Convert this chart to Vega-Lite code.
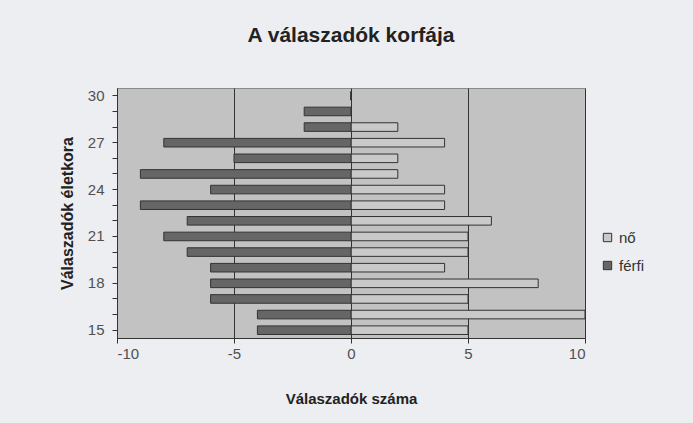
{
  "$schema": "https://vega.github.io/schema/vega-lite/v6.json",
  "width": 468,
  "height": 250,
  "autosize": {"type": "none"},
  "padding": {"left": 117, "top": 88, "right": 108, "bottom": 85},
  "background": "#eceef1",
  "title": {
    "text": "A válaszadók korfája",
    "anchor": "middle",
    "offset": 42,
    "fontSize": 21,
    "fontWeight": "bold",
    "font": "Liberation Sans",
    "color": "#222222"
  },
  "data": {
    "values": [
      {"age": 15, "sex": "nő", "value": 5},
      {"age": 15, "sex": "férfi", "value": -4},
      {"age": 16, "sex": "nő", "value": 10},
      {"age": 16, "sex": "férfi", "value": -4},
      {"age": 17, "sex": "nő", "value": 5},
      {"age": 17, "sex": "férfi", "value": -6},
      {"age": 18, "sex": "nő", "value": 8},
      {"age": 18, "sex": "férfi", "value": -6},
      {"age": 19, "sex": "nő", "value": 4},
      {"age": 19, "sex": "férfi", "value": -6},
      {"age": 20, "sex": "nő", "value": 5},
      {"age": 20, "sex": "férfi", "value": -7},
      {"age": 21, "sex": "nő", "value": 5},
      {"age": 21, "sex": "férfi", "value": -8},
      {"age": 22, "sex": "nő", "value": 6},
      {"age": 22, "sex": "férfi", "value": -7},
      {"age": 23, "sex": "nő", "value": 4},
      {"age": 23, "sex": "férfi", "value": -9},
      {"age": 24, "sex": "nő", "value": 4},
      {"age": 24, "sex": "férfi", "value": -6},
      {"age": 25, "sex": "nő", "value": 2},
      {"age": 25, "sex": "férfi", "value": -9},
      {"age": 26, "sex": "nő", "value": 2},
      {"age": 26, "sex": "férfi", "value": -5},
      {"age": 27, "sex": "nő", "value": 4},
      {"age": 27, "sex": "férfi", "value": -8},
      {"age": 28, "sex": "nő", "value": 2},
      {"age": 28, "sex": "férfi", "value": -2},
      {"age": 29, "sex": "nő", "value": 0},
      {"age": 29, "sex": "férfi", "value": -2},
      {"age": 30, "sex": "nő", "value": 0},
      {"age": 30, "sex": "férfi", "value": 0}
    ]
  },
  "mark": {"type": "bar", "stroke": "#333333", "strokeWidth": 1},
  "encoding": {
    "y": {
      "field": "age",
      "type": "ordinal",
      "sort": "descending",
      "scale": {"paddingInner": 0.45, "paddingOuter": 0.225},
      "axis": {
        "title": "Válaszadók életkora",
        "titleFontSize": 16,
        "titleFontWeight": "bold",
        "titleColor": "#222222",
        "titleFont": "Liberation Sans",
        "titlePadding": 12,
        "labelExpr": "datum.value % 3 == 0 ? datum.label : ''",
        "labelFontSize": 15,
        "labelColor": "#505050",
        "labelFont": "Liberation Sans",
        "labelPadding": 8,
        "labelAngle": 0,
        "tickSize": 5,
        "tickColor": "#333333",
        "domainColor": "#333333",
        "grid": false
      }
    },
    "x": {
      "field": "value",
      "type": "quantitative",
      "stack": null,
      "scale": {"domain": [-10, 10], "nice": false},
      "axis": {
        "title": "Válaszadók száma",
        "titleFontSize": 15,
        "titleFontWeight": "bold",
        "titleColor": "#222222",
        "titleFont": "Liberation Sans",
        "titlePadding": 30,
        "values": [-10, -5, 0, 5, 10],
        "labelExpr": "datum.value + ''",
        "labelFontSize": 15,
        "labelColor": "#505050",
        "labelFont": "Liberation Sans",
        "labelPadding": 3,
        "tickSize": 5,
        "tickColor": "#333333",
        "domainColor": "#333333",
        "grid": true,
        "gridColor": "#333333",
        "gridOpacity": 1,
        "gridWidth": 1
      }
    },
    "color": {
      "field": "sex",
      "type": "nominal",
      "scale": {"domain": ["nő", "férfi"], "range": ["#c9c9c9", "#666666"]},
      "legend": {
        "title": null,
        "orient": "none",
        "legendX": 483,
        "legendY": 142,
        "symbolType": "square",
        "symbolSize": 70,
        "symbolStrokeColor": "#333333",
        "symbolStrokeWidth": 1,
        "labelFontSize": 15,
        "labelColor": "#333333",
        "labelFont": "Liberation Sans",
        "rowPadding": 12,
        "labelOffset": 4
      }
    }
  },
  "config": {
    "view": {"fill": "#c2c2c2", "stroke": "#8a8a8a"}
  }
}
